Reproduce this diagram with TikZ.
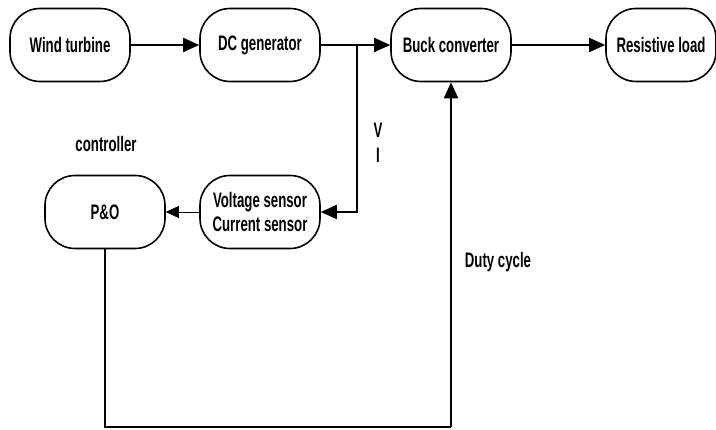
\documentclass[tikz,border=0pt]{standalone}
\usepackage{fontspec}
\setmainfont{Liberation Sans}[FakeStretch=0.63]
\usetikzlibrary{arrows.meta}
\begin{document}
\begin{tikzpicture}[x=1pt,y=1pt,
  blk/.style={draw, line width=1.6pt, rounded corners=30pt, minimum height=73pt, align=center, font=\fontsize{21}{24}\selectfont\bfseries, inner sep=0pt},
  lbl/.style={font=\fontsize{21}{24}\selectfont\bfseries, inner sep=0pt},
  conn/.style={line width=1.8pt, -{Triangle[length=16pt,width=14pt]}},
  thin/.style={line width=0.6pt, -{Triangle[length=13pt,width=12pt]}}]
\useasboundingbox (0,0) rectangle (716,430);
\node[blk, minimum width=120pt] (wt) at (70,385) {Wind turbine};
\node[blk, minimum width=120pt] (dc) at (260,385) {DC generator};
\node[blk, minimum width=120pt] (bc) at (451,385) {Buck converter};
\node[blk, minimum width=110pt] (rl) at (661,385) {Resistive load};
\node[blk, minimum width=120pt] (se) at (260,218) {Voltage sensor\\Current sensor};
\node[blk, minimum width=120pt] (po) at (105,218) {P\&O};
\coordinate (br) at (357,385);
\coordinate (bl) at (105,3);
\coordinate (brr) at (451,3);
\node[lbl] (ctl) at (106,286) {controller};
\node[lbl] (v) at (378,300) {V};
\node[lbl] (i) at (378,275) {I};
\node[lbl] (dy) at (498,168) {Duty cycle};
\draw[conn] (wt) -- (dc);
\draw[conn] (dc) -- (bc);
\draw[conn] (bc) -- (rl);
\draw[conn] (br) |- (se.east);
\draw[thin] (se) -- (po);
\draw[line width=1.8pt] (po.south) -- (bl) -- (brr);
\draw[conn] (brr) -- (bc.south);
\end{tikzpicture}
\end{document}
